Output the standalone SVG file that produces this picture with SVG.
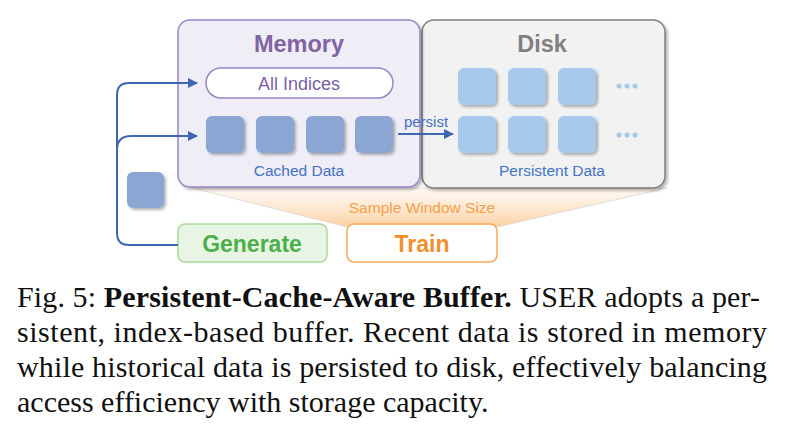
<svg xmlns="http://www.w3.org/2000/svg" width="785" height="436" viewBox="0 0 785 436">
<style>
.lbl{font-family:"Liberation Sans",Arial,sans-serif}
.title{font-family:"Liberation Sans",Arial,sans-serif;font-weight:bold;font-size:23.5px;text-anchor:middle}
.blue{fill:#4472c4;font-size:15.5px;text-anchor:middle}
.cq{fill:#8ba6d3;filter:url(#sh)}
.dq{fill:#a7c9ec;filter:url(#sh)}
.dot{fill:#a7c9ec}
.conn{fill:none;stroke:#3f66b0;stroke-width:2}
.cap{font-family:"Liberation Serif","Times New Roman",serif;font-size:30px;fill:#111}
</style>
<defs>
<filter id="sh" x="-20%" y="-20%" width="150%" height="150%">
<feDropShadow dx="2" dy="2" stdDeviation="1.5" flood-color="#000" flood-opacity="0.3"/>
</filter>
<linearGradient id="win" x1="0" y1="0" x2="0" y2="1">
<stop offset="0" stop-color="#fff4ea" stop-opacity="0.6"/>
<stop offset="1" stop-color="#fcd0a2"/>
</linearGradient>
<marker id="ah" viewBox="0 0 10 10" refX="9" refY="5" markerWidth="5" markerHeight="5" orient="auto" markerUnits="strokeWidth">
<path d="M0 0 L10 5 L0 10 z" fill="#3f66b0"/>
</marker>
</defs>
<rect width="785" height="436" fill="#fff"/>

<g id="window">
<path d="M193 188 L667 188 L497 227 L347 227 Z" fill="url(#win)" stroke="#d8d8d8" stroke-width="0.8"/>
<text class="lbl" x="422" y="213" font-size="15.5" fill="#f5a04a" text-anchor="middle">Sample Window Size</text>
</g>

<g id="disk">
<rect x="422" y="20" width="243" height="168" rx="12" fill="#f2f2f2" stroke="#7f7f7f" stroke-width="1.5" filter="url(#sh)"/>
<text class="title" x="542" y="52" fill="#808080">Disk</text>
<rect class="dq" x="458" y="68" width="38" height="37" rx="6"/>
<rect class="dq" x="508" y="68" width="38" height="37" rx="6"/>
<rect class="dq" x="558" y="68" width="38" height="37" rx="6"/>
<rect class="dq" x="458" y="116" width="38" height="37" rx="6"/>
<rect class="dq" x="508" y="116" width="38" height="37" rx="6"/>
<rect class="dq" x="558" y="116" width="38" height="37" rx="6"/>
<circle class="dot" cx="619" cy="86" r="2.6"/><circle class="dot" cx="627" cy="86" r="2.6"/><circle class="dot" cx="635" cy="86" r="2.6"/>
<circle class="dot" cx="619" cy="135" r="2.6"/><circle class="dot" cx="627" cy="135" r="2.6"/><circle class="dot" cx="635" cy="135" r="2.6"/>
<text class="lbl blue" x="552" y="176">Persistent Data</text>
</g>

<g id="memory">
<rect x="178" y="20" width="242" height="167" rx="12" fill="#efedf6" stroke="#9b84c4" stroke-width="1.5" filter="url(#sh)"/>
<text class="title" x="299" y="52" fill="#8064a2">Memory</text>
<rect x="206" y="68" width="187" height="30" rx="15" fill="#fff" stroke="#9b84c4" stroke-width="1.5"/>
<text class="lbl" x="299" y="90" font-size="18" fill="#7b5fa8" text-anchor="middle">All Indices</text>
<rect class="cq" x="206" y="116" width="38" height="37" rx="6"/>
<rect class="cq" x="256" y="116" width="38" height="37" rx="6"/>
<rect class="cq" x="306" y="116" width="38" height="37" rx="6"/>
<rect class="cq" x="355" y="116" width="38" height="37" rx="6"/>
<text class="lbl blue" x="299" y="176">Cached Data</text>
</g>

<g id="sample">
<rect class="cq" x="127" y="172" width="37" height="36" rx="6"/>
</g>

<g id="generate">
<rect x="178" y="224" width="149" height="38" rx="7" fill="#e8f5e4" stroke="#a9d99b" stroke-width="1.5"/>
<text class="lbl" x="252" y="252" font-size="23" font-weight="bold" fill="#4daf4a" text-anchor="middle">Generate</text>
</g>

<g id="train">
<rect x="347" y="224" width="150" height="38" rx="7" fill="#fff" stroke="#f7a85a" stroke-width="1.5"/>
<text class="lbl" x="422" y="252" font-size="23" font-weight="bold" fill="#f18f2d" text-anchor="middle">Train</text>
</g>

<g id="connectors">
<path class="conn" d="M178 245 H129 Q117 245 117 233 V95 Q117 83 129 83 H197" marker-end="url(#ah)"/>
<path class="conn" d="M117 150 Q117 136 131 136 H197" marker-end="url(#ah)"/>
<path class="conn" d="M398 134 H453" marker-end="url(#ah)"/>
<text class="lbl" x="426" y="127" font-size="15" fill="#4472c4" text-anchor="middle">persist</text>
</g>

<g id="caption">
<text class="cap" x="17" y="307" textLength="743" lengthAdjust="spacing">Fig. 5: <tspan font-weight="bold">Persistent-Cache-Aware Buffer.</tspan> USER adopts a per-</text>
<text class="cap" x="17" y="342" textLength="750" lengthAdjust="spacing">sistent, index-based buffer. Recent data is stored in memory</text>
<text class="cap" x="17" y="377" textLength="750" lengthAdjust="spacing">while historical data is persisted to disk, effectively balancing</text>
<text class="cap" x="17" y="412">access efficiency with storage capacity.</text>
</g>
</svg>
